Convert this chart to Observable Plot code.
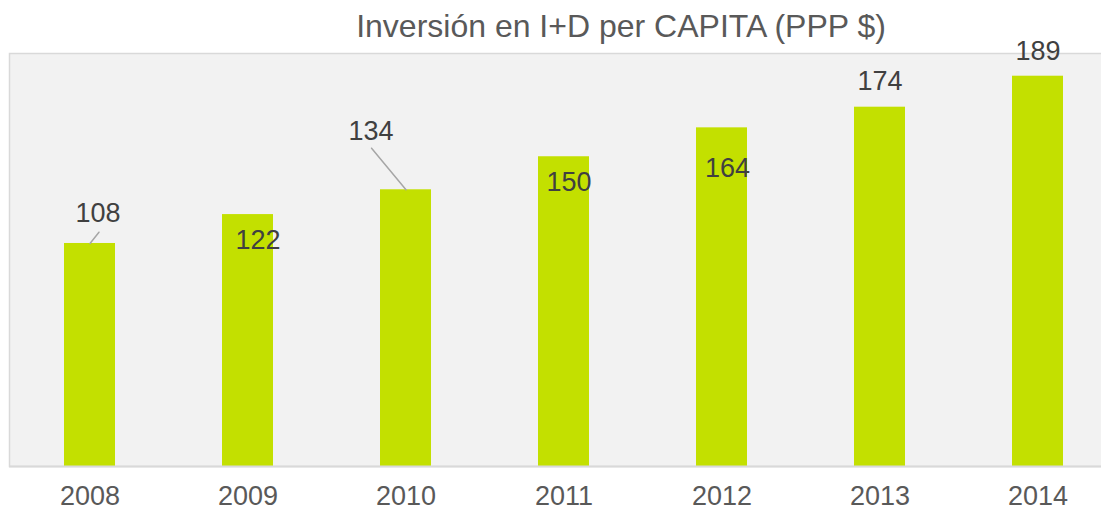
<!DOCTYPE html>
<html>
<head>
<meta charset="utf-8">
<script src="https://cdn.jsdelivr.net/npm/d3@7"></script>
<script src="https://cdn.jsdelivr.net/npm/@observablehq/plot@0.6"></script>
<style>
  html, body { margin: 0; padding: 0; background: #fff; overflow: hidden; }
  #wrap { position: relative; width: 1101px; height: 511px; }
  #title { position: absolute; left: 141px; right: 0; top: 10px; text-align: center;
           font: 32px "Liberation Sans", Arial, sans-serif; line-height: 32px; color: #595959; white-space: nowrap; }
  #chart svg { display: block; }
</style>
</head>
<body>
<div id="wrap">
  <div id="chart"></div>
  <div id="title">Inversión en I+D per CAPITA (PPP $)</div>
</div>
<script>
const years = ["2008", "2009", "2010", "2011", "2012", "2013", "2014"];
const values = [108, 122, 134, 150, 164, 174, 189];

// label nudges (style: offset of each data label from its bar top, px)
const labelNudge = [[8, -21], [10, 34], [-35, -50], [5, 34], [5.5, 49], [0, -17], [0, -16]];
// leader lines (style: which labels have one, length px, angle deg)
const leaders = [{i: 0, len: 14.4, angle: 38.5}, {i: 2, len: 54, angle: -39.6}];

const data = years.map((y, i) => ({year: y, value: values[i]}));

const lineShape = {
  draw(context, l) { context.moveTo(0, 0); context.lineTo(0, -l); }
};

const labelMarks = data.map((d, i) => Plot.text([d], {
  x: "year", y: "value", text: d => String(d.value),
  lineAnchor: "bottom", textAnchor: "middle",
  dx: labelNudge[i][0], dy: labelNudge[i][1],
  fontSize: 27, fill: "#404040"
}));

const leaderMarks = leaders.map(L => Plot.vector([data[L.i]], {
  x: "year", y: "value", length: L.len, rotate: L.angle, anchor: "start",
  shape: lineShape, stroke: "#a6a6a6", strokeWidth: 1.5
}));

const chart = Plot.plot({
  width: 1101,
  height: 511,
  marginLeft: 9,
  marginRight: -16,
  marginTop: 53,
  marginBottom: 45,
  style: {fontFamily: "'Liberation Sans', Arial, sans-serif", background: "transparent", overflow: "hidden"},
  x: {type: "band", domain: years, paddingInner: 0.678, paddingOuter: 0.339, label: null},
  y: {domain: [0, 200], axis: null},
  marks: [
    Plot.frame({fill: "#f2f2f2", stroke: "#d9d9d9", strokeWidth: 1.5}),
    Plot.barY(data, {x: "year", y: "value", fill: "#c3e000"}),
    Plot.ruleY([0], {stroke: "#d9d9d9", strokeWidth: 2}),
    Plot.axisX({tickSize: 0, tickPadding: 19, fontSize: 27, color: "#595959", label: null}),
    ...leaderMarks,
    ...labelMarks
  ]
});
document.getElementById("chart").appendChild(chart);
</script>
</body>
</html>
